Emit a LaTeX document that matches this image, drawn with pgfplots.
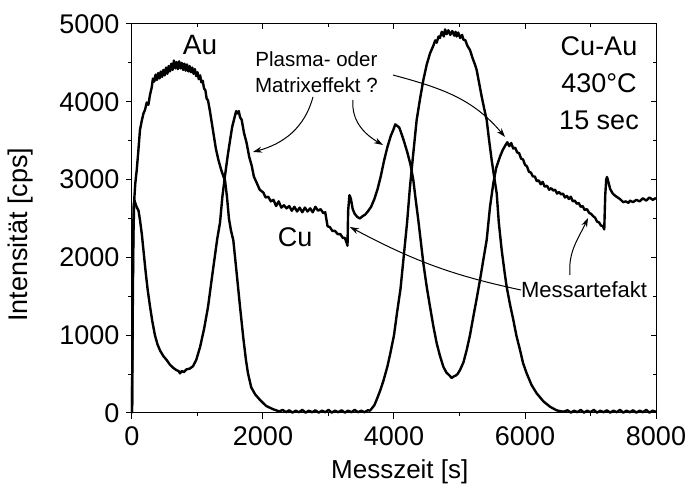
\documentclass[border=0pt]{standalone}
\usepackage{pgfplots}
\pgfplotsset{compat=1.18}
\usepackage{fontspec}
\setmainfont{Liberation Sans}
\usetikzlibrary{arrows.meta}

\begin{document}
\begin{tikzpicture}
\path[use as bounding box] (-132pt,-77pt) rectangle (557pt,413pt);
\begin{axis}[
 at={(0pt,0pt)}, anchor=south west,
 scale only axis, width=524pt, height=389pt,
 xmin=0, xmax=8000, ymin=0, ymax=5000,
 xtick={0,2000,...,8000}, ytick={0,1000,...,5000},
 minor x tick num=1, minor y tick num=1,
 xtick pos=left, ytick pos=left, tick align=outside,
 major tick length=6pt, minor tick length=3.5pt,
 tick style={line width=1pt, black},
 axis line style={line width=1pt},
 scaled ticks=false,
 /pgf/number format/assume math mode=true,
 /pgf/number format/1000 sep={},
 ticklabel style={font=\fontsize{27}{30}\selectfont},
 xticklabel style={yshift=-4pt},
 yticklabel style={xshift=-3pt},
 xlabel={Messzeit [s]}, ylabel={Intensität [cps]},
 xlabel style={font=\fontsize{26}{30}\selectfont, at={(axis description cs:0.511,-0.152)}, anchor=center},
 ylabel style={font=\fontsize{27}{30}\selectfont, at={(axis description cs:-0.213,0.458)}, anchor=center},
 clip=false,
]
% Au
\addplot[black, line width=2.4pt, line join=round] table {
x y
0 0
8 900
15 1700
22 2300
35 2750
50 2950
72 3120
95 3350
122 3640
150 3760
175 3850
198 3895
225 3990
250 3960
275 4090
300 4180
320 4300
340 4260
360 4350
380 4280
400 4370
420 4300
440 4390
460 4320
480 4410
500 4340
520 4440
540 4360
560 4460
580 4390
600 4490
620 4410
640 4530
660 4430
680 4510
700 4420
720 4520
740 4430
760 4500
780 4410
800 4490
820 4400
840 4480
860 4390
880 4460
900 4380
920 4440
940 4360
960 4420
980 4330
1000 4380
1020 4290
1040 4340
1060 4250
1080 4270
1100 4170
1120 4150
1140 4040
1160 4020
1190 3880
1220 3720
1250 3560
1280 3400
1320 3250
1360 3130
1400 3030
1420 2990
1450 2780
1480 2500
1510 2350
1547 2220
1600 1780
1650 1360
1700 960
1740 680
1770 514
1820 330
1880 240
1955 167
2050 90
2150 50
2200 35
2250 20
2300 40
2350 10
2400 35
2450 5
2500 30
2550 10
2600 40
2650 5
2700 30
2750 10
2800 35
2850 5
2900 30
2950 10
3000 40
3050 5
3100 30
3150 10
3200 35
3250 5
3300 30
3350 10
3400 40
3450 10
3500 30
3550 10
3600 35
3634 30
3700 100
3735 170
3790 290
3842 424
3900 600
3944 767
4000 1000
4045 1281
4100 1600
4147 2000
4200 2450
4244 2909
4290 3300
4346 3766
4400 4050
4448 4280
4500 4480
4550 4623
4600 4720
4630 4790
4652 4760
4680 4840
4700 4820
4730 4900
4760 4840
4780 4930
4804 4870
4830 4920
4860 4860
4890 4910
4920 4850
4940 4900
4957 4840
4980 4890
5010 4820
5040 4860
5059 4800
5090 4790
5120 4720
5160 4666
5200 4560
5240 4470
5262 4409
5300 4240
5339 4066
5380 3900
5415 3766
5450 3520
5491 3252
5530 3030
5568 2824
5600 2450
5644 2095
5690 1800
5720 1623
5770 1400
5822 1195
5870 990
5924 810
5970 643
6025 510
6100 360
6178 253
6280 150
6382 81
6480 35
6530 25
6585 17
6650 35
6700 5
6750 30
6800 10
6850 40
6900 5
6950 30
7000 10
7050 40
7100 5
7150 30
7200 10
7250 35
7300 5
7350 30
7400 10
7450 40
7500 5
7550 30
7600 10
7650 35
7700 5
7750 30
7800 10
7850 40
7900 5
7950 30
8000 15
};
% Cu
\addplot[black, line width=2.4pt, line join=round] table {
x y
0 0
8 1200
15 2100
25 2650
35 2740
50 2700
70 2650
100 2600
122 2480
150 2300
180 2050
210 1800
240 1580
275 1370
310 1180
350 1000
390 880
430 800
480 730
530 680
580 620
630 580
680 550
710 540
733 510
760 540
790 525
830 560
880 570
930 600
980 680
1040 850
1100 1080
1160 1360
1230 1800
1300 2230
1344 2450
1380 2780
1420 3050
1460 3300
1496 3500
1530 3680
1560 3780
1590 3880
1610 3850
1630 3880
1650 3800
1674 3770
1710 3600
1750 3470
1790 3290
1827 3180
1860 3040
1903 2960
1950 2870
2005 2834
2040 2770
2080 2780
2120 2720
2160 2740
2200 2660
2240 2720
2280 2640
2320 2670
2360 2630
2400 2660
2440 2600
2480 2650
2520 2590
2560 2640
2600 2580
2640 2640
2680 2590
2720 2630
2760 2580
2800 2650
2840 2600
2880 2620
2920 2570
2950 2580
2970 2480
2985 2400
3020 2390
3060 2340
3100 2340
3140 2300
3180 2300
3220 2250
3250 2250
3280 2180
3290 2150
3300 2600
3320 2800
3340 2760
3370 2620
3400 2560
3440 2520
3480 2500
3520 2530
3560 2550
3600 2590
3650 2650
3700 2750
3750 2880
3800 3050
3850 3250
3900 3420
3950 3560
3990 3640
4020 3710
4050 3690
4080 3670
4110 3600
4150 3500
4200 3360
4250 3200
4295 2995
4330 2750
4371 2480
4410 2200
4448 1924
4500 1620
4550 1366
4600 1120
4652 896
4700 740
4753 595
4800 520
4850 480
4880 450
4906 467
4940 480
4970 500
5008 553
5060 650
5110 810
5160 1000
5211 1238
5260 1460
5313 1710
5360 1950
5415 2224
5466 2652
5517 2955
5560 3150
5618 3295
5660 3380
5700 3440
5730 3480
5760 3430
5790 3470
5820 3400
5850 3410
5880 3350
5910 3340
5940 3270
5970 3260
6000 3190
6030 3170
6060 3100
6090 3090
6120 3040
6150 3040
6180 2980
6210 2990
6240 2940
6270 2970
6300 2910
6336 2920
6370 2870
6400 2890
6430 2860
6460 2870
6490 2820
6520 2840
6550 2810
6580 2820
6610 2770
6641 2790
6670 2750
6700 2780
6730 2720
6760 2730
6790 2690
6820 2700
6850 2650
6880 2660
6910 2610
6947 2620
6980 2570
7010 2560
7040 2530
7070 2510
7100 2460
7130 2450
7160 2410
7191 2400
7210 2360
7225 2800
7240 3000
7252 3034
7270 2980
7300 2880
7340 2820
7380 2790
7405 2776
7450 2750
7500 2710
7540 2720
7580 2700
7603 2730
7650 2710
7700 2740
7750 2720
7800 2760
7850 2730
7900 2770
7950 2740
8000 2763
};
% annotations
\node[font=\fontsize{28}{30}\selectfont] at (axis cs:1038,4730) {Au};
\node[font=\fontsize{27}{30}\selectfont] at (axis cs:2489,2262) {Cu};
\node[font=\fontsize{20.5}{26}\selectfont, align=center] at (axis cs:2816,4386) {Plasma- oder\\Matrixeffekt ?};
\node[font=\fontsize{27}{37}\selectfont, align=center] at (axis cs:7130,4235) {Cu-Au\\430°C\\15 sec};
\node[font=\fontsize{22}{26}\selectfont] at (axis cs:6901,1587) {Messartefakt};
\draw[-{Stealth[length=9pt,width=6pt]}, line width=1pt] (axis cs:2763,4062) to[out=-105,in=15] (axis cs:1847,3355);
\draw[-{Stealth[length=9pt,width=6pt]}, line width=1pt] (axis cs:3374,4023) to[out=-95,in=150] (axis cs:3832,3445);
\draw[-{Stealth[length=9pt,width=6pt]}, line width=1pt] (axis cs:3985,4344) to[out=-15,in=130] (axis cs:5695,3548);
\draw[-{Stealth[length=9pt,width=6pt]}, line width=1pt] (axis cs:5939,1581) to[out=168,in=-28] (axis cs:3328,2391);
\draw[-{Stealth[length=9pt,width=6pt]}, line width=1pt] (axis cs:6687,1774) to[out=95,in=-115] (axis cs:6962,2506);
\end{axis}
\begin{axis}[
 at={(0pt,0pt)}, anchor=south west,
 scale only axis, width=524pt, height=389pt,
 xmin=0, xmax=8000, ymin=0, ymax=5000,
 xtick={0,2000,...,8000}, ytick={0,1000,...,5000},
 minor x tick num=1, minor y tick num=1,
 xtick pos=right, ytick pos=right, tick align=inside,
 major tick length=5pt, minor tick length=3.5pt,
 tick style={line width=1pt, black},
 axis line style={draw=none},
 xticklabel={\mbox{}}, yticklabel={\mbox{}},
]
\end{axis}
\end{tikzpicture}
\end{document}
